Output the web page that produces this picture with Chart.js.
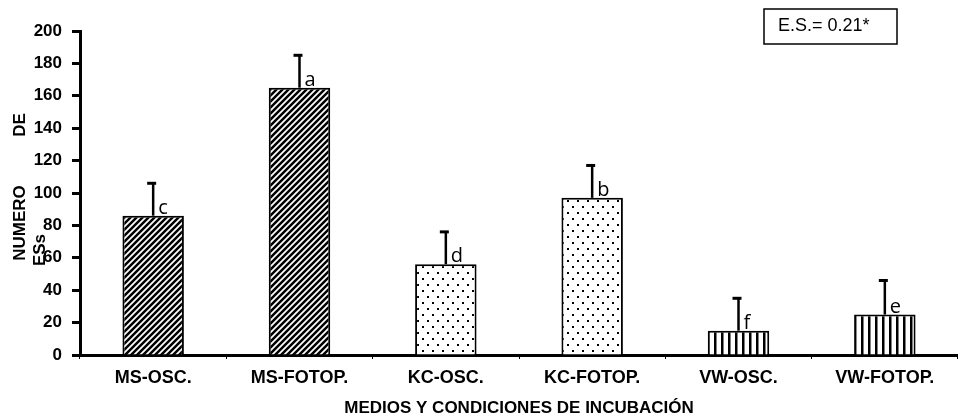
<!DOCTYPE html>
<html lang="es">
<head>
<meta charset="UTF-8">
<title>Número de ESs</title>
<script src="https://cdn.jsdelivr.net/npm/chart.js"></script>
<style>
  html, body { margin: 0; padding: 0; background: #fff; }
  #wrap { width: 958px; height: 418px; }
</style>
</head>
<body>
<div id="wrap"><canvas id="myChart" width="958" height="418"></canvas></div>
<script>
// datos
const categories = ['MS-OSC.', 'MS-FOTOP.', 'KC-OSC.', 'KC-FOTOP.', 'VW-OSC.', 'VW-FOTOP.'];
const values = [86, 165, 56, 97, 15, 25];
const errors = [20, 20, 20, 20, 20, 21];
const letters = ['c', 'a', 'd', 'b', 'f', 'e'];
const yTicks = [0, 20, 40, 60, 80, 100, 120, 140, 160, 180, 200];
const noteText = 'E.S.= 0.21*';

const FONT = '"Liberation Sans", Arial, sans-serif';

// tramas de relleno
function makePattern(kind) {
  const c = document.createElement('canvas');
  const g = c.getContext('2d');
  if (kind === 'hatch') {
    c.width = 6; c.height = 6;
    g.fillStyle = '#fff'; g.fillRect(0, 0, 6, 6);
    g.strokeStyle = '#000'; g.lineWidth = 2.5;
    g.beginPath();
    g.moveTo(-1, 7); g.lineTo(7, -1);
    g.moveTo(-4, 4); g.lineTo(4, -4);
    g.moveTo(2, 10); g.lineTo(10, 2);
    g.stroke();
  } else if (kind === 'dots') {
    c.width = 10; c.height = 12;
    g.fillStyle = '#fff'; g.fillRect(0, 0, 10, 12);
    g.fillStyle = '#000';
    g.fillRect(2, 2, 2, 2);
    g.fillRect(7, 8, 2, 2);
  } else {
    c.width = 7; c.height = 4;
    g.fillStyle = '#fff'; g.fillRect(0, 0, 7, 4);
    g.fillStyle = '#000';
    g.fillRect(0, 0, 2.5, 4);
  }
  return g.createPattern(c, 'repeat');
}

const pHatch = makePattern('hatch');
const pDots = makePattern('dots');
const pLines = makePattern('lines');
const fills = [pHatch, pHatch, pDots, pDots, pLines, pLines];

// barras de error, letras, caja E.S. y título del eje Y
const extrasPlugin = {
  id: 'extras',
  afterDatasetsDraw(chart) {
    const ctx = chart.ctx;
    const y = chart.scales.y;
    const meta = chart.getDatasetMeta(0);
    ctx.save();
    meta.data.forEach((bar, i) => {
      const x = bar.x;
      const yTop = y.getPixelForValue(values[i]);
      const yErr = y.getPixelForValue(values[i] + errors[i]);
      ctx.strokeStyle = '#000';
      ctx.lineWidth = 2.5;
      ctx.beginPath();
      ctx.moveTo(x, yTop);
      ctx.lineTo(x, yErr);
      ctx.stroke();
      ctx.lineWidth = 3;
      ctx.beginPath();
      ctx.moveTo(x - 6, yErr);
      ctx.lineTo(x + 3, yErr);
      ctx.stroke();

      ctx.fillStyle = '#000';
      ctx.font = '20px "Open Sans", ' + FONT;
      ctx.textAlign = 'left';
      ctx.textBaseline = 'alphabetic';
      ctx.fillText(letters[i], x + 5, yTop - 2);
    });
    ctx.restore();
  },
  afterDraw(chart) {
    const ctx = chart.ctx;
    ctx.save();
    // caja E.S.
    ctx.strokeStyle = '#000';
    ctx.lineWidth = 1.5;
    ctx.strokeRect(764, 9, 133, 35);
    ctx.fillStyle = '#000';
    ctx.font = '18px ' + FONT;
    ctx.textAlign = 'left';
    ctx.textBaseline = 'middle';
    ctx.fillText(noteText, 778, 26);

    // título del eje Y (partido como en el original)
    ctx.font = 'bold 17px ' + FONT;
    ctx.textAlign = 'center';
    ctx.textBaseline = 'middle';
    const rot = (txt, x, yy) => {
      ctx.save();
      ctx.translate(x, yy);
      ctx.rotate(-Math.PI / 2);
      ctx.fillText(txt, 0, 0);
      ctx.restore();
    };
    rot('DE', 20, 125);
    rot('NUMERO', 20, 223);
    rot('ESs', 40, 250);
    ctx.restore();
  }
};

const ctx = document.getElementById('myChart').getContext('2d');

new Chart(ctx, {
  type: 'bar',
  data: {
    labels: categories,
    datasets: [{
      data: values,
      backgroundColor: fills,
      borderColor: '#000',
      borderWidth: 2,
      borderSkipped: 'bottom',
      categoryPercentage: 1,
      barPercentage: 0.42
    }]
  },
  options: {
    responsive: false,
    animation: false,
    events: [],
    layout: { padding: { top: 31, right: 0, left: 0, bottom: 0 } },
    plugins: {
      legend: { display: false },
      tooltip: { enabled: false }
    },
    scales: {
      x: {
        grid: {
          offset: true,
          drawOnChartArea: false,
          tickLength: 4,
          tickColor: '#000',
          tickWidth: 1
        },
        border: { color: '#000', width: 3 },
        ticks: {
          color: '#000',
          padding: 8,
          maxRotation: 0,
          font: { family: FONT, size: 18, weight: 'bold' }
        },
        title: {
          display: true,
          text: 'MEDIOS Y CONDICIONES DE INCUBACIÓN',
          color: '#000',
          padding: { top: 0, bottom: 1 },
          font: { family: FONT, size: 17, weight: 'bold', lineHeight: 1 }
        },
        afterFit(scale) { scale.height = 63; }
      },
      y: {
        min: 0,
        max: 200,
        afterBuildTicks(scale) { scale.ticks = yTicks.map(v => ({ value: v })); },
        grid: {
          drawOnChartArea: false,
          tickLength: 8,
          tickColor: '#000',
          tickWidth: 3
        },
        border: { color: '#000', width: 3 },
        ticks: {
          color: '#000',
          padding: 10,
          font: { family: FONT, size: 17, weight: 'bold' }
        },
        afterFit(scale) { scale.width = 80; }
      }
    }
  },
  plugins: [extrasPlugin]
});
</script>
</body>
</html>
